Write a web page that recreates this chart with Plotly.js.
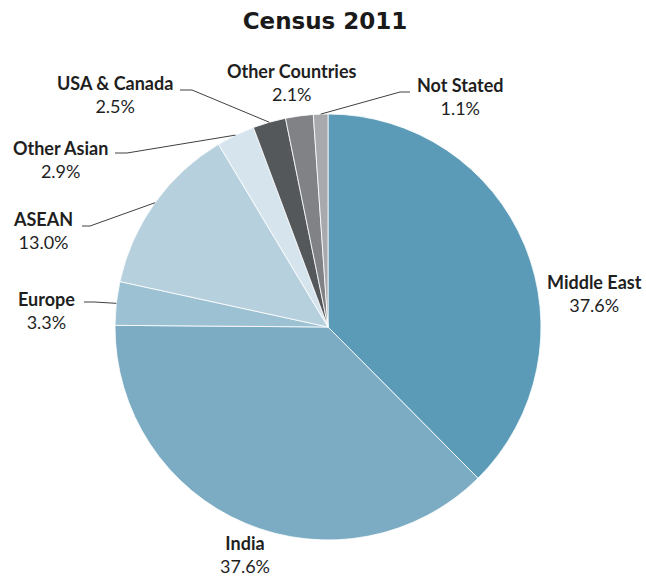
<!DOCTYPE html>
<html>
<head>
<meta charset="utf-8">
<script src="https://cdn.plot.ly/plotly-3.0.1.min.js"></script>
<style>html,body{margin:0;padding:0;background:#fff;}#chart{width:646px;height:577px;}</style>
</head>
<body>
<div id="chart"></div>
<script>
// ---- data ----
const regions = ["Middle East", "India", "Europe", "ASEAN", "Other Asian", "USA & Canada", "Other Countries", "Not Stated"];
const shares = [37.6, 37.6, 3.3, 13.0, 2.9, 2.5, 2.1, 1.1];
const sliceColors = ["#5b9bb7", "#7bacc4", "#9cc1d3", "#b6d0de", "#d5e4ed", "#55585b", "#808285", "#a7a9ac"];

// ---- layout config (pixel positions of label blocks and leader stubs) ----
const W = 646, H = 577;
const cx = 328, cy = 327, R = 213;
const labelPos = [[594, 293], [245, 554], [47, 310], [43, 231], [60, 159], [115, 95], [292, 82], [460, 96]];
const leaderStub = [null, null, [[84, 302], [94, 302]], [[82, 226], [90, 226]], [[115, 153], [127, 153]], [[180, 90], [192, 90]], null, [[410, 92], [400, 92]]];

const px = x => x / W;
const py = y => 1 - y / H;

const total = shares.reduce((a, b) => a + b, 0);
let cum = 0;
const annotations = [];
const shapes = [];
shares.forEach((v, i) => {
  const mid = (cum + v / 2) / total;
  cum += v;
  const th = 2 * Math.PI * mid;
  const ax = cx + R * Math.sin(th), ay = cy - R * Math.cos(th);
  annotations.push({
    x: px(labelPos[i][0]), y: py(labelPos[i][1]), xref: 'paper', yref: 'paper',
    xanchor: 'center', yanchor: 'middle', showarrow: false, align: 'center',
    text: '<b>' + regions[i].replace('&', '&amp;') + '</b><br>' + v.toFixed(1) + '%',
    font: {family: 'Lato, "Open Sans", sans-serif', size: 18, color: '#1f1f1f'}
  });
  if (leaderStub[i]) {
    const s = leaderStub[i];
    shapes.push({
      type: 'path', xref: 'paper', yref: 'paper',
      path: `M ${px(s[0][0])} ${py(s[0][1])} L ${px(s[1][0])} ${py(s[1][1])} L ${px(ax)} ${py(ay)}`,
      line: {color: '#404040', width: 1}
    });
  }
});

const trace = {
  type: 'pie',
  labels: regions,
  values: shares,
  sort: false,
  direction: 'clockwise',
  rotation: 0,
  textinfo: 'none',
  hoverinfo: 'label+percent',
  marker: {colors: sliceColors, line: {color: '#ffffff', width: 0.8}},
  domain: {x: [px(cx - R), px(cx + R)], y: [py(cy + R), py(cy - R)]},
  showlegend: false
};

const layout = {
  width: W, height: H,
  margin: {l: 0, r: 0, t: 0, b: 0},
  paper_bgcolor: '#ffffff',
  title: {
    text: '<b>Census 2011</b>',
    x: px(325), xanchor: 'center', y: py(21), yanchor: 'middle',
    font: {family: '"DejaVu Sans", sans-serif', size: 23, color: '#1a1a1a'}
  },
  annotations: annotations,
  shapes: shapes
};

Plotly.newPlot('chart', [trace], layout, {displayModeBar: false, staticPlot: true});
</script>
</body>
</html>
